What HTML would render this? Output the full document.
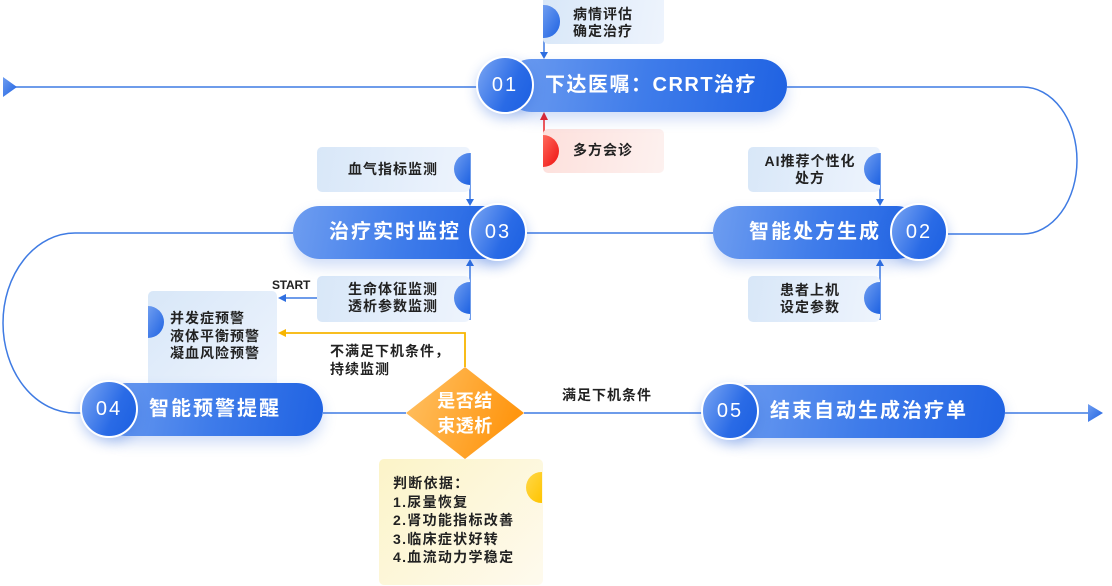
<!DOCTYPE html>
<html><head><meta charset="utf-8">
<style>
*{margin:0;padding:0;box-sizing:border-box}
html,body{width:1112px;height:586px;overflow:hidden;background:#fff}
body{position:relative;font-family:"Liberation Sans","Noto Sans CJK SC",sans-serif}
svg{position:absolute;left:0;top:0}
.box{position:absolute;border-radius:5px;background:linear-gradient(100deg,#d8e7f8,#eef4fd)}
.t{position:absolute;font-size:14px;font-weight:bold;color:#222;letter-spacing:1px;line-height:17px;white-space:nowrap}
.pill{position:absolute;height:53px;border-radius:27px;background:linear-gradient(100deg,#6e9df0 0%,#3f7cea 50%,#1f62e2 100%);box-shadow:0 7px 14px rgba(40,100,220,.22)}
.pt{position:absolute;color:#fff;font-size:20px;font-weight:bold;letter-spacing:2px;line-height:24px;white-space:nowrap}
.circ{position:absolute;width:58px;height:58px;border-radius:50%;border:2px solid #fff;background:linear-gradient(115deg,#7ba6f3,#2a6be6 60%,#1b5fe1);box-shadow:0 5px 12px rgba(40,100,220,.3);color:#fff;font-size:20px;text-align:center;line-height:54px;letter-spacing:2px}
.sr{position:absolute;width:16px;height:32px;border-radius:0 16px 16px 0;background:linear-gradient(120deg,#6f9df0,#1e62e2)}
.sl{position:absolute;width:16px;height:32px;border-radius:16px 0 0 16px;background:linear-gradient(120deg,#6f9df0,#1e62e2)}
</style></head><body>

<svg width="1112" height="586" viewBox="0 0 1112 586">
<defs>
<linearGradient id="ob" x1="0" y1="0" x2="1" y2="0.3">
<stop offset="0" stop-color="#ffc266"/><stop offset="1" stop-color="#ff9610"/></linearGradient>
<linearGradient id="ab" x1="0" y1="0" x2="1" y2="1">
<stop offset="0" stop-color="#6f9df0"/><stop offset="1" stop-color="#1e62e2"/></linearGradient>
</defs>
<g fill="none" stroke="#3f7be3" stroke-width="1.5">
<line x1="12" y1="87" x2="480" y2="87"/>
<path d="M787 87 H1023 A54 73.5 0 0 1 1023 234 H948"/>
<line x1="527" y1="233" x2="713" y2="233"/>
<path d="M293 233 H75 A72 90 0 0 0 75 413 H82"/>
<line x1="323" y1="413" x2="406" y2="413"/>
<line x1="524" y1="413" x2="703" y2="413"/>
<line x1="1005" y1="413" x2="1090" y2="413"/>
<line x1="544" y1="0" x2="544" y2="53"/>
<line x1="470" y1="153" x2="470" y2="200"/>
<line x1="470" y1="320" x2="470" y2="265"/>
<line x1="880" y1="153" x2="880" y2="200"/>
<line x1="880" y1="320" x2="880" y2="265"/>
<line x1="317" y1="298" x2="284" y2="298"/>
</g>
<line x1="544" y1="167" x2="544" y2="119" stroke="#f02020" stroke-width="1.5"/>
<polygon points="540,120 548,120 544,112" fill="#f02020"/>
<g fill="#2f6fe0">
<polygon points="540,52 548,52 544,59"/>
<polygon points="466,199 474,199 470,206"/>
<polygon points="466,266 474,266 470,259"/>
<polygon points="876,199 884,199 880,206"/>
<polygon points="876,266 884,266 880,259"/>
<polygon points="286,294 286,302 278,298"/>
</g>
<polyline points="465,367 465,333 285,333" fill="none" stroke="#f7b500" stroke-width="1.8"/>
<polygon points="286,329 286,337 278,333" fill="#f7b500"/>
<polygon points="3,77 17,87 3,97" fill="url(#ab)"/>
<polygon points="1088,404 1103,413 1088,422" fill="url(#ab)"/>
<polygon points="406,413 465,367 524,413 465,459" fill="url(#ob)"/>
</svg>

<!-- top boxes -->
<div class="box" style="left:543px;top:-5px;width:121px;height:49px"></div>
<div class="sr" style="left:543px;top:5px;height:33px;width:17px"></div>
<div class="t" style="left:573px;top:5.5px">病情评估<br>确定治疗</div>

<div class="box" style="left:543px;top:129px;width:121px;height:44px;background:linear-gradient(100deg,#fde0dc,#fdf1ef)"></div>
<div class="sr" style="left:543px;top:135px;background:linear-gradient(120deg,#ff6a5c,#ee1010)"></div>
<div class="t" style="left:573px;top:141.5px">多方会诊</div>

<!-- node 01 -->
<div class="pill" style="left:505px;top:59px;width:282px"></div>
<div class="pt" style="left:545px;top:73px;letter-spacing:1.5px">下达医嘱：CRRT治疗</div>
<div class="circ" style="left:476px;top:56px">01</div>

<!-- node 03 boxes -->
<div class="box" style="left:317px;top:147px;width:153px;height:45px"></div>
<div class="sl" style="left:454px;top:153px"></div>
<div class="t" style="left:348px;top:160.5px">血气指标监测</div>

<div class="box" style="left:317px;top:276px;width:153px;height:46px"></div>
<div class="sl" style="left:454px;top:282px"></div>
<div class="t" style="left:348px;top:280.5px">生命体征监测<br>透析参数监测</div>

<div class="pill" style="left:293px;top:206px;width:220px"></div>
<div class="pt" style="left:329px;top:220px">治疗实时监控</div>
<div class="circ" style="left:469px;top:203px">03</div>

<!-- node 02 boxes -->
<div class="box" style="left:748px;top:147px;width:132px;height:45px"></div>
<div class="sl" style="left:864px;top:153px"></div>
<div class="t" style="left:748px;top:152.5px;width:124px;text-align:center">AI推荐个性化<br>处方</div>

<div class="box" style="left:748px;top:276px;width:132px;height:46px"></div>
<div class="sl" style="left:864px;top:282px"></div>
<div class="t" style="left:748px;top:281.5px;width:124px;text-align:center">患者上机<br>设定参数</div>

<div class="pill" style="left:713px;top:206px;width:210px"></div>
<div class="pt" style="left:749px;top:220px">智能处方生成</div>
<div class="circ" style="left:890px;top:203px">02</div>

<!-- START -->
<div class="t" style="left:272px;top:277px;font-size:12px;letter-spacing:-0.2px;line-height:16px">START</div>

<!-- warning box -->
<div class="box" style="left:148px;top:291px;width:129px;height:104px;background:linear-gradient(135deg,#d8e7f8,#eef4fd)"></div>
<div class="sr" style="left:148px;top:306px"></div>
<div class="t" style="left:170px;top:310px;line-height:17.5px">并发症预警<br>液体平衡预警<br>凝血风险预警</div>

<!-- node 04 -->
<div class="pill" style="left:100px;top:383px;width:223px"></div>
<div class="pt" style="left:149px;top:397px">智能预警提醒</div>
<div class="circ" style="left:80px;top:380px">04</div>

<!-- decision labels -->
<div class="t" style="left:330px;top:342px;line-height:18px">不满足下机条件，<br>持续监测</div>
<div class="t" style="left:562px;top:386.5px">满足下机条件</div>
<div class="pt" style="left:415px;top:389px;width:100px;text-align:center;font-size:18px;letter-spacing:0.5px;line-height:25px">是否结<br>束透析</div>

<!-- node 05 -->
<div class="pill" style="left:720px;top:385px;width:285px"></div>
<div class="pt" style="left:770px;top:399px">结束自动生成治疗单</div>
<div class="circ" style="left:701px;top:382px">05</div>

<!-- yellow box -->
<div class="box" style="left:379px;top:459px;width:164px;height:126px;background:linear-gradient(135deg,#fcf4c8,#fefaee)"></div>
<div class="sl" style="left:526px;top:472px;height:31px;background:linear-gradient(120deg,#ffd84a,#ffc400)"></div>
<div class="t" style="left:393px;top:474px;font-size:14px;letter-spacing:1.3px;line-height:18.5px">判断依据：<br>1.尿量恢复<br>2.肾功能指标改善<br>3.临床症状好转<br>4.血流动力学稳定</div>

</body></html>
